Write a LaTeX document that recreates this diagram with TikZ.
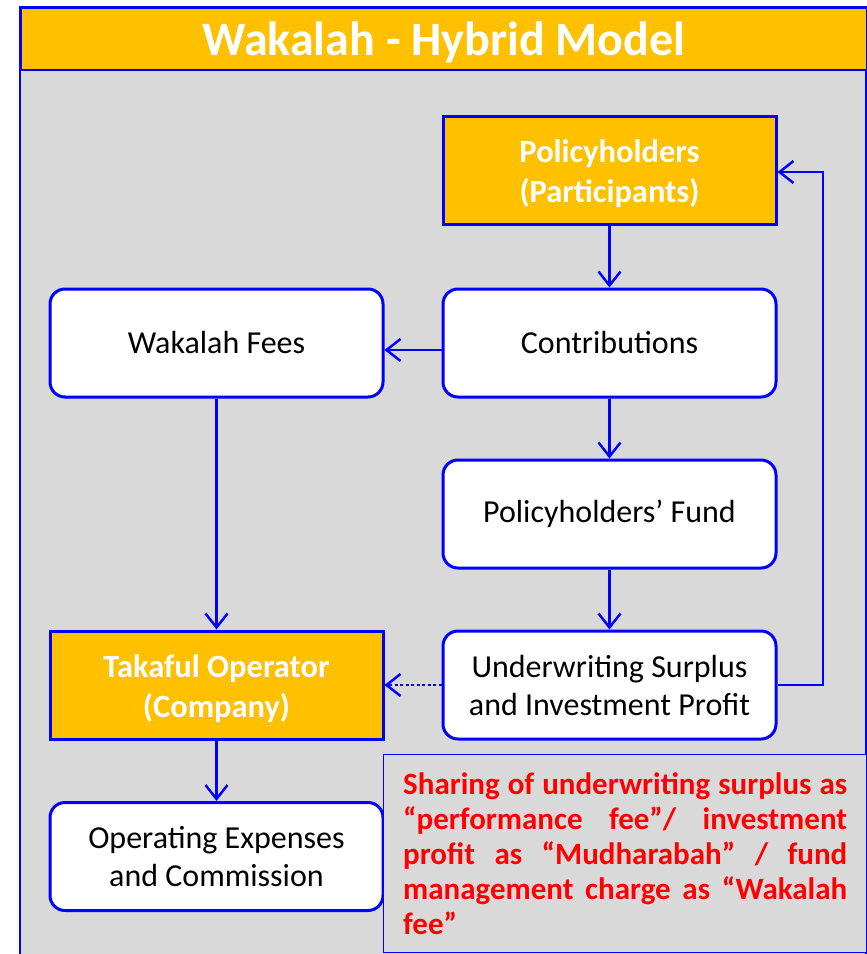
\documentclass[tikz,border=0pt]{standalone}
\usepackage{fontspec}
\setmainfont{Carlito}
\usetikzlibrary{arrows.meta,positioning}
\definecolor{orng}{HTML}{FFC000}
\definecolor{bgray}{HTML}{D9D9D9}
\definecolor{pblue}{HTML}{0000FF}
\definecolor{pred}{HTML}{FF0000}
\tikzset{
  box/.style={draw=pblue, line width=3pt, minimum width=333pt, minimum height=108pt, align=center, font=\fontsize{32}{38}\selectfont, inner sep=2pt},
  wbox/.style={box, fill=white, rounded corners=15pt, text=black},
  obox/.style={box, fill=orng},
  olbl/.style={align=center, text=white, font=\fontsize{32.5}{39.5}\selectfont\bfseries, inner sep=0pt},
  flow/.style={draw=pblue, line width=2.5pt, -{Straight Barb[length=14pt,width=22pt,line width=2.5pt]}},
  dflow/.style={flow, dash pattern=on 3pt off 2.5pt}
}
\begin{document}
\begin{tikzpicture}[x=1pt,y=-1pt]
\useasboundingbox (0,0) rectangle (867,954);
\clip (0,0) rectangle (867,954);
% frame
\fill[bgray] (19.5,7) rectangle (866,990);
\draw[pblue, line width=2pt] (19.5,7) rectangle (866,990);
\node[fill=orng, draw=pblue, line width=2pt, minimum width=846.5pt, minimum height=62pt, anchor=north west, inner sep=0pt] (title) at (19.5,7) {};
\node[text=white, font=\fontsize{48}{54}\selectfont\bfseries, inner sep=0pt] (titletext) at ([yshift=-3pt]title.center) {Wakalah - Hybrid Model};
% boxes
\node[obox] (ph) at (609.5,170.5) {};
\node[olbl] (phtext) at ([yshift=-3pt]ph.center) {Policyholders\\(Participants)};
\node[wbox] (co) at (609.5,343) {Contributions};
\node[wbox] (wf) at (216.5,343) {Wakalah Fees};
\node[wbox] (fu) at (609.5,514) {Policyholders’ Fund};
\node[wbox] (uw) at (609.5,685) {Underwriting Surplus\\and Investment Profit};
\node[obox] (to) at (216.5,685) {};
\node[olbl] (totext) at ([yshift=-3.5pt]to.center) {Takaful Operator\\(Company)};
\node[wbox] (oe) at (216.5,856.5) {Operating Expenses\\and Commission};
% note
\node[draw=pblue, line width=1.2pt, fill=bgray, minimum width=483pt, minimum height=198pt, anchor=north west, inner sep=0pt] (note) at (383,754) {};
\node[text=pred, font=\fontsize{31}{35}\selectfont\bfseries, text width=444pt, align=justify, anchor=north west, inner sep=0pt] (notetext) at (403,772) {Sharing of underwriting surplus as\linebreak “performance fee”/ investment\linebreak profit as “Mudharabah” / fund\linebreak management charge as “Wakalah\linebreak fee”};
% arrows
\draw[flow] (ph) -- (co);
\draw[flow] (co) -- (fu);
\draw[flow] (fu) -- (uw);
\draw[flow] ([yshift=-7pt]co.west) -- ([yshift=-7pt]wf.east);
\draw[flow] (wf) -- (to);
\draw[flow] (to) -- (oe);
\draw[dflow] (uw.west) -- (to.east);
\coordinate (rt) at (823,685);
\coordinate (rtop) at (823,172);
\draw[flow] (uw.east) -- (rt) -- (rtop) -- (ph.east |- rtop);
\end{tikzpicture}
\end{document}
